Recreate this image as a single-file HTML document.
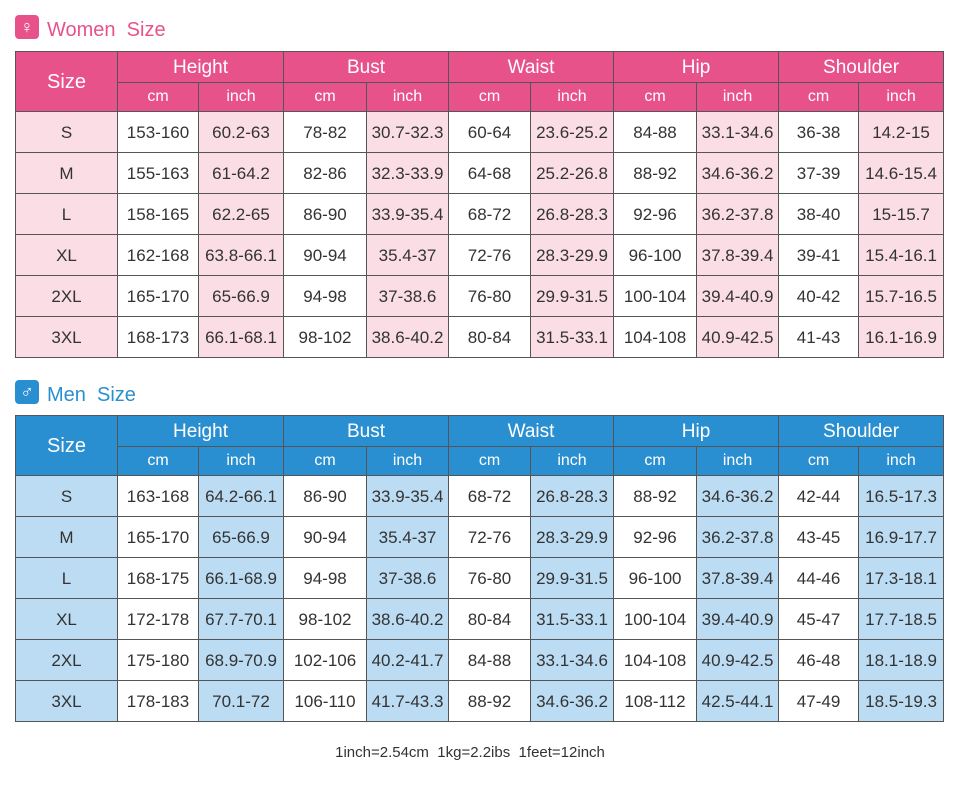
<!DOCTYPE html>
<html><head><meta charset="utf-8"><style>
body{margin:0;width:957px;height:792px;background:#fff;font-family:"Liberation Sans","DejaVu Sans",sans-serif;position:relative;overflow:hidden}
.t{position:absolute;font-size:20px;left:47px}
.ic{position:absolute;left:15px;width:24px;height:24px;border-radius:4px;color:#fff;font-size:18px;line-height:24px;text-align:center}
table{position:absolute;left:15px;border-collapse:collapse;table-layout:fixed;width:928px}
td{border:1px solid #555;text-align:center;font-size:17px;color:#333;padding:0;white-space:nowrap}
tr.h1 td{height:31px;color:#fff;font-size:19px;padding-top:2px;box-sizing:border-box}
tr.h2 td{height:28px;color:#fff;font-size:16px}
tr.d td{height:41px;padding-top:2px;box-sizing:border-box}
.w .hd{background:#e8528b}.w .lt{background:#fbdde6}
.m .hd{background:#2a8fd0}.m .lt{background:#bcdcf3}
.foot{position:absolute;top:744px;left:0;width:940px;text-align:center;font-size:15px;color:#333}
</style></head><body>
<div class="ic" style="top:15px;background:#e8528b">♀</div>
<div class="t" style="top:19px;color:#e8528b">Women&nbsp; Size</div>
<table class="w" style="top:51px">
<colgroup><col style="width:102px"><col style="width:81px"><col style="width:85px"><col style="width:83px"><col style="width:82px"><col style="width:82px"><col style="width:83px"><col style="width:83px"><col style="width:82px"><col style="width:80px"><col style="width:85px"></colgroup>
<tr class="h1"><td class="hd" rowspan="2" style="font-size:20px">Size</td><td class="hd" colspan="2">Height</td><td class="hd" colspan="2">Bust</td><td class="hd" colspan="2">Waist</td><td class="hd" colspan="2">Hip</td><td class="hd" colspan="2">Shoulder</td></tr>
<tr class="h2"><td class="hd">cm</td><td class="hd">inch</td><td class="hd">cm</td><td class="hd">inch</td><td class="hd">cm</td><td class="hd">inch</td><td class="hd">cm</td><td class="hd">inch</td><td class="hd">cm</td><td class="hd">inch</td></tr>
<tr class="d"><td class="lt">S</td><td>153-160</td><td class="lt">60.2-63</td><td>78-82</td><td class="lt">30.7-32.3</td><td>60-64</td><td class="lt">23.6-25.2</td><td>84-88</td><td class="lt">33.1-34.6</td><td>36-38</td><td class="lt">14.2-15</td></tr>
<tr class="d"><td class="lt">M</td><td>155-163</td><td class="lt">61-64.2</td><td>82-86</td><td class="lt">32.3-33.9</td><td>64-68</td><td class="lt">25.2-26.8</td><td>88-92</td><td class="lt">34.6-36.2</td><td>37-39</td><td class="lt">14.6-15.4</td></tr>
<tr class="d"><td class="lt">L</td><td>158-165</td><td class="lt">62.2-65</td><td>86-90</td><td class="lt">33.9-35.4</td><td>68-72</td><td class="lt">26.8-28.3</td><td>92-96</td><td class="lt">36.2-37.8</td><td>38-40</td><td class="lt">15-15.7</td></tr>
<tr class="d"><td class="lt">XL</td><td>162-168</td><td class="lt">63.8-66.1</td><td>90-94</td><td class="lt">35.4-37</td><td>72-76</td><td class="lt">28.3-29.9</td><td>96-100</td><td class="lt">37.8-39.4</td><td>39-41</td><td class="lt">15.4-16.1</td></tr>
<tr class="d"><td class="lt">2XL</td><td>165-170</td><td class="lt">65-66.9</td><td>94-98</td><td class="lt">37-38.6</td><td>76-80</td><td class="lt">29.9-31.5</td><td>100-104</td><td class="lt">39.4-40.9</td><td>40-42</td><td class="lt">15.7-16.5</td></tr>
<tr class="d"><td class="lt">3XL</td><td>168-173</td><td class="lt">66.1-68.1</td><td>98-102</td><td class="lt">38.6-40.2</td><td>80-84</td><td class="lt">31.5-33.1</td><td>104-108</td><td class="lt">40.9-42.5</td><td>41-43</td><td class="lt">16.1-16.9</td></tr>
</table>
<div class="ic" style="top:380px;background:#2a8fd0">♂</div>
<div class="t" style="top:384px;color:#2a8fd0">Men&nbsp; Size</div>
<table class="m" style="top:415px">
<colgroup><col style="width:102px"><col style="width:81px"><col style="width:85px"><col style="width:83px"><col style="width:82px"><col style="width:82px"><col style="width:83px"><col style="width:83px"><col style="width:82px"><col style="width:80px"><col style="width:85px"></colgroup>
<tr class="h1"><td class="hd" rowspan="2" style="font-size:20px">Size</td><td class="hd" colspan="2">Height</td><td class="hd" colspan="2">Bust</td><td class="hd" colspan="2">Waist</td><td class="hd" colspan="2">Hip</td><td class="hd" colspan="2">Shoulder</td></tr>
<tr class="h2"><td class="hd">cm</td><td class="hd">inch</td><td class="hd">cm</td><td class="hd">inch</td><td class="hd">cm</td><td class="hd">inch</td><td class="hd">cm</td><td class="hd">inch</td><td class="hd">cm</td><td class="hd">inch</td></tr>
<tr class="d"><td class="lt">S</td><td>163-168</td><td class="lt">64.2-66.1</td><td>86-90</td><td class="lt">33.9-35.4</td><td>68-72</td><td class="lt">26.8-28.3</td><td>88-92</td><td class="lt">34.6-36.2</td><td>42-44</td><td class="lt">16.5-17.3</td></tr>
<tr class="d"><td class="lt">M</td><td>165-170</td><td class="lt">65-66.9</td><td>90-94</td><td class="lt">35.4-37</td><td>72-76</td><td class="lt">28.3-29.9</td><td>92-96</td><td class="lt">36.2-37.8</td><td>43-45</td><td class="lt">16.9-17.7</td></tr>
<tr class="d"><td class="lt">L</td><td>168-175</td><td class="lt">66.1-68.9</td><td>94-98</td><td class="lt">37-38.6</td><td>76-80</td><td class="lt">29.9-31.5</td><td>96-100</td><td class="lt">37.8-39.4</td><td>44-46</td><td class="lt">17.3-18.1</td></tr>
<tr class="d"><td class="lt">XL</td><td>172-178</td><td class="lt">67.7-70.1</td><td>98-102</td><td class="lt">38.6-40.2</td><td>80-84</td><td class="lt">31.5-33.1</td><td>100-104</td><td class="lt">39.4-40.9</td><td>45-47</td><td class="lt">17.7-18.5</td></tr>
<tr class="d"><td class="lt">2XL</td><td>175-180</td><td class="lt">68.9-70.9</td><td>102-106</td><td class="lt">40.2-41.7</td><td>84-88</td><td class="lt">33.1-34.6</td><td>104-108</td><td class="lt">40.9-42.5</td><td>46-48</td><td class="lt">18.1-18.9</td></tr>
<tr class="d"><td class="lt">3XL</td><td>178-183</td><td class="lt">70.1-72</td><td>106-110</td><td class="lt">41.7-43.3</td><td>88-92</td><td class="lt">34.6-36.2</td><td>108-112</td><td class="lt">42.5-44.1</td><td>47-49</td><td class="lt">18.5-19.3</td></tr>
</table>
<div class="foot">1inch=2.54cm&nbsp; 1kg=2.2ibs&nbsp; 1feet=12inch</div>
</body></html>
